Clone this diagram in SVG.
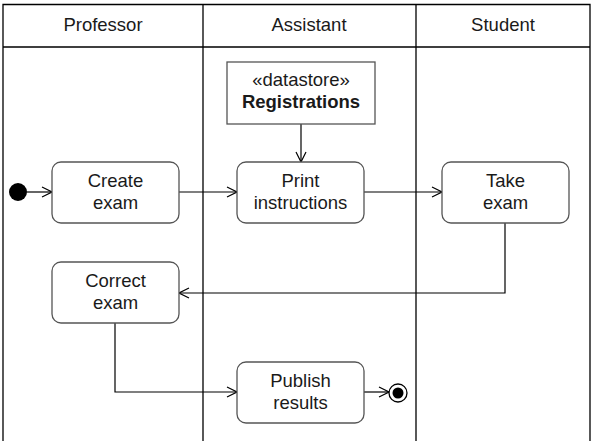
<svg xmlns="http://www.w3.org/2000/svg" width="593" height="441" viewBox="0 0 593 441">
<defs>
<style>
text{font-family:"Liberation Sans",Arial,sans-serif;font-size:18.5px;fill:#1a1a1a;text-anchor:middle}
.lane{fill:none;stroke:#000;stroke-width:1.3}
.act{fill:#fff;stroke:#555;stroke-width:1.3}
.edge{fill:none;stroke:#000;stroke-width:1.2;marker-end:url(#arr)}
.b{font-weight:bold}
</style>
<marker id="arr" viewBox="0 0 12 12" refX="11" refY="6" markerWidth="12" markerHeight="12" markerUnits="userSpaceOnUse" orient="auto">
<path d="M1,1 L11,6 L1,11" fill="none" stroke="#000" stroke-width="1.2"/>
</marker>
</defs>
<rect width="593" height="441" fill="#fff"/>
<g id="lanes">
<path class="lane" d="M3,441 V4.5 H590 V441 M3,47 H590 M203,4.5 V441 M416,4.5 V441"/>
<text x="103" y="31">Professor</text>
<text x="309" y="31">Assistant</text>
<text x="503" y="31">Student</text>
</g>
<g id="connectors">
<path class="edge" d="M27,192 H52"/>
<path class="edge" d="M179,192 H237"/>
<path class="edge" d="M301,124 V162"/>
<path class="edge" d="M364,192 H442"/>
<path class="edge" d="M505,223 V293 H179"/>
<path class="edge" d="M115,323 V392 H237"/>
<path class="edge" d="M364,392 H389"/>
</g>
<g id="initial"><circle cx="18" cy="192" r="9" fill="#000"/></g>
<g id="create"><rect class="act" x="52" y="162" width="127" height="61" rx="9"/><text x="115.5" y="187">Create</text><text x="115.5" y="209">exam</text></g>
<g id="datastore"><rect x="227" y="62" width="148" height="62" fill="#fff" stroke="#555" stroke-width="1.3"/><text x="301" y="86">«datastore»</text><text class="b" x="301" y="108">Registrations</text></g>
<g id="print"><rect class="act" x="237" y="162" width="127" height="61" rx="9"/><text x="300.5" y="187">Print</text><text x="300.5" y="209">instructions</text></g>
<g id="take"><rect class="act" x="442" y="162" width="127" height="61" rx="9"/><text x="505.5" y="187">Take</text><text x="505.5" y="209">exam</text></g>
<g id="correct"><rect class="act" x="52" y="262" width="127" height="61" rx="9"/><text x="115.5" y="287">Correct</text><text x="115.5" y="309">exam</text></g>
<g id="publish"><rect class="act" x="237" y="362" width="127" height="61" rx="9"/><text x="300.5" y="387">Publish</text><text x="300.5" y="409">results</text></g>
<g id="final"><circle cx="398" cy="393" r="9" fill="#fff" stroke="#000" stroke-width="1.3"/><circle cx="398" cy="393" r="5.5" fill="#000"/></g>
</svg>
